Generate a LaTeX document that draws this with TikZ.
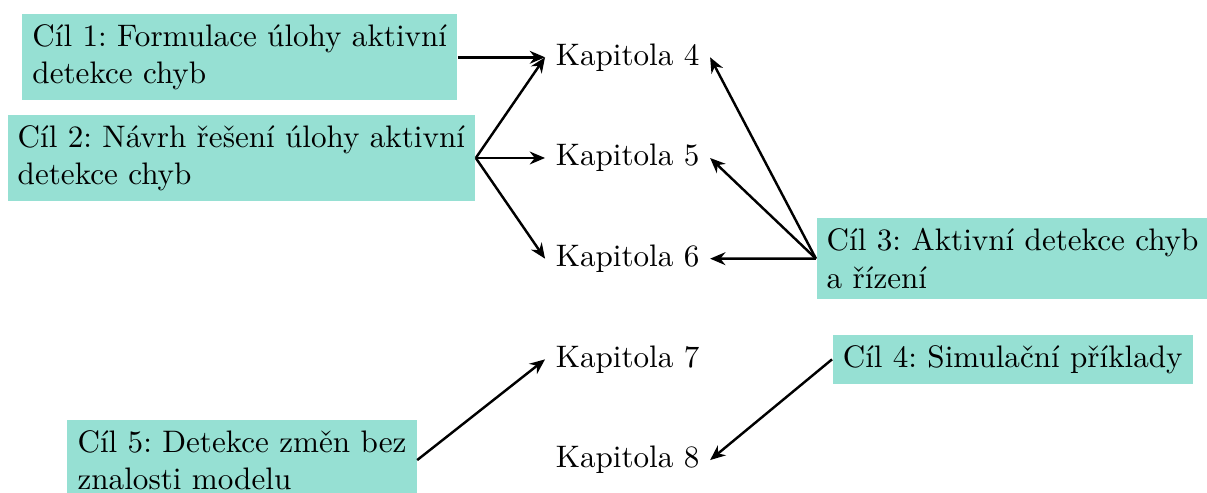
\documentclass[tikz,border=0pt]{standalone}
\usepackage{xcolor}
\usepackage{tikz}
\usetikzlibrary{arrows.meta}
\definecolor{tyrkys}{RGB}{150,224,211}

\begin{document}
\frenchspacing
\begin{tikzpicture}[font=\fontsize{10.2pt}{12.3pt}\selectfont,
  cil/.style={fill=tyrkys, align=left, anchor=west},
  sipka/.style={-{Stealth[length=5pt, width=4.2pt]}, thick}]
\useasboundingbox (0,0) rectangle (13.905,-5.668);
\foreach \k [count=\i from 0] in {4,...,8}{%
  \node (kap\k) at (7.23, {-0.66-1.16*\i}) {Kapitola \k};}
\node[cil] (cil1) at (0.25,-0.66) {Cíl 1: Formulace úlohy aktivní\\detekce chyb};
\node[cil] (cil2) at (0.08,-1.82) {Cíl 2: Návrh řešení úlohy aktivní\\detekce chyb};
\node[cil] (cil3) at (9.40,-2.98) {Cíl 3: Aktivní detekce chyb\\a řízení};
\node[cil] (cil4) at (9.585,-4.14) {Cíl 4: Simulační příklady};
\node[cil] (cil5) at (0.77,-5.30) {Cíl 5: Detekce změn bez\\znalosti modelu};
\draw[sipka] (cil1.east) -- (kap4.west);
\foreach \k in {4,5,6}{%
  \draw[sipka] (cil2.east) -- (kap\k.west);
  \draw[sipka] (cil3.west) -- (kap\k.east);}
\draw[sipka] (cil4.west) -- (kap8.east);
\draw[sipka] (cil5.east) -- (kap7.west);
\end{tikzpicture}
\end{document}
